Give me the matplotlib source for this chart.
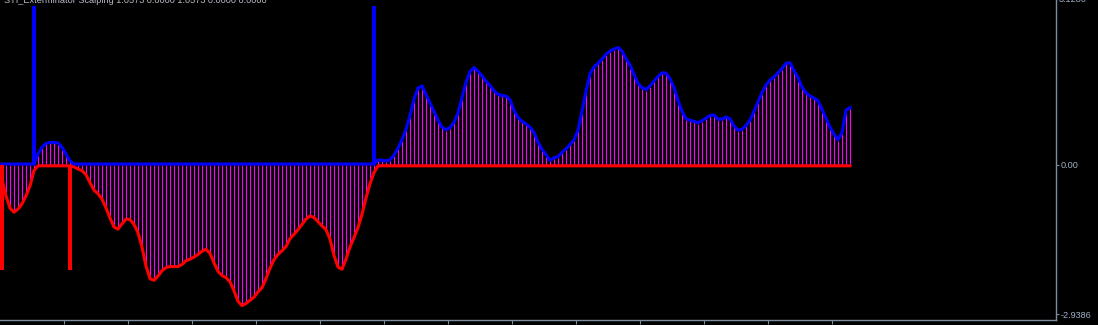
import numpy as np
import matplotlib
matplotlib.use("Agg")
import matplotlib.pyplot as plt
from matplotlib.transforms import ScaledTranslation

# ---- data (indicator value per bar) ----
values = [
    -0.25, -0.57, -0.80, -0.88, -0.82, -0.72, -0.57, -0.38, -0.09, 0.19,
    0.32, 0.39, 0.41, 0.41, 0.40, 0.32, 0.19, 0.06, -0.02, -0.06,
    -0.09, -0.17, -0.32, -0.46, -0.53, -0.63, -0.80, -0.99, -1.16, -1.20,
    -1.10, -1.01, -1.02, -1.11, -1.27, -1.54, -1.90, -2.14, -2.17, -2.09,
    -1.99, -1.93, -1.91, -1.91, -1.91, -1.87, -1.80, -1.77, -1.73, -1.68,
    -1.62, -1.58, -1.66, -1.84, -2.00, -2.08, -2.12, -2.20, -2.37, -2.57,
    -2.65, -2.61, -2.55, -2.49, -2.39, -2.31, -2.14, -1.94, -1.78, -1.68,
    -1.61, -1.53, -1.38, -1.30, -1.21, -1.11, -1.01, -0.95, -0.98, -1.06,
    -1.14, -1.21, -1.39, -1.70, -1.92, -1.96, -1.77, -1.54, -1.36, -1.17,
    -0.92, -0.61, -0.34, -0.13, 0.08, 0.07, 0.06, 0.08, 0.17, 0.30,
    0.46, 0.66, 0.92, 1.23, 1.44, 1.48, 1.32, 1.16, 1.00, 0.83,
    0.70, 0.65, 0.69, 0.79, 0.97, 1.26, 1.55, 1.75, 1.83, 1.76,
    1.67, 1.57, 1.49, 1.39, 1.32, 1.30, 1.29, 1.22, 1.02, 0.88,
    0.81, 0.76, 0.70, 0.60, 0.42, 0.28, 0.18, 0.07, 0.12, 0.14,
    0.22, 0.29, 0.37, 0.46, 0.64, 1.00, 1.38, 1.71, 1.84, 1.91,
    1.99, 2.08, 2.14, 2.18, 2.21, 2.14, 2.00, 1.88, 1.70, 1.53,
    1.45, 1.41, 1.48, 1.57, 1.66, 1.73, 1.72, 1.62, 1.45, 1.21,
    1.00, 0.86, 0.83, 0.81, 0.78, 0.82, 0.87, 0.92, 0.93, 0.85,
    0.85, 0.89, 0.86, 0.72, 0.64, 0.66, 0.73, 0.83, 1.00, 1.18,
    1.35, 1.50, 1.59, 1.65, 1.73, 1.81, 1.91, 1.92, 1.77, 1.64,
    1.46, 1.35, 1.29, 1.25, 1.20, 1.04, 0.87, 0.70, 0.57, 0.46,
    0.59, 1.02, 1.07,
]
buy_signal_bars = [8, 93]
buy_signal_value = 3.01
sell_signal_bars = [0, 17]
sell_signal_value = -1.99

title_text = "STI_Exterminator Scalping 1.0573 0.0000 1.0573 0.0000 0.0000"
y_max_label = "3.1280"
y_zero_label = "0.00"
y_min_label = "-2.9386"
y_min = -2.9386
y_max = 3.128
n_slots = 264  # visible bar slots in the window

# ---- styling ----
BG = "#000000"
AXIS_C = "#7d8da0"
TEXT_C = "#9fb0c4"

fig = plt.figure(figsize=(10.98, 3.25), dpi=100, facecolor=BG)
ax = fig.add_axes([0.0, 5 / 325, 1056 / 1098, 320 / 325], facecolor=BG)

x = np.arange(len(values))
v = np.array(values)
pos = np.maximum(v, 0)
neg = np.minimum(v, 0)

# histogram bars
ax.vlines(x, 0, v, colors="#FF00FF", linewidth=0.8, zorder=2)

# red line (negative part) and blue line (positive part)
down = ScaledTranslation(0, -0.6 / 72, fig.dpi_scale_trans)
up = ScaledTranslation(0, 0.7 / 72, fig.dpi_scale_trans)
ax.plot(x, neg, color="#FF0000", linewidth=2.2, zorder=3,
        transform=ax.transData + down, solid_joinstyle="round")
ax.plot(x, pos, color="#0000FF", linewidth=2.2, zorder=4,
        transform=ax.transData + up, solid_joinstyle="round")

# signal spikes
ax.vlines(buy_signal_bars, 0, buy_signal_value, colors="#0000FF",
          linewidth=2.9, zorder=5)
ax.vlines(sell_signal_bars, 0, sell_signal_value, colors="#FF0000",
          linewidth=2.9, zorder=5)

ax.set_xlim(-0.5, n_slots - 0.5)
ax.set_ylim(y_min, y_max)

for s in ["top", "left"]:
    ax.spines[s].set_visible(False)
for s in ["right", "bottom"]:
    ax.spines[s].set_color(AXIS_C)
    ax.spines[s].set_linewidth(1.0)

# bottom ticks every 16 bars, no labels
ax.set_xticks(np.arange(16, 16 * 14, 16) - 0.5)
ax.tick_params(axis="x", direction="out", length=3, width=0.8,
               colors=AXIS_C, labelbottom=False)

# right axis ticks
ax.yaxis.tick_right()
ax.set_yticks([0.0, y_min + 6 * (y_max - y_min) / 320])
ax.set_yticklabels([y_zero_label, y_min_label])
ax.tick_params(axis="y", direction="out", length=2, width=0.8,
               colors=AXIS_C, labelcolor=TEXT_C, labelsize=6.6, pad=1.5)
for lab in ax.get_yticklabels():
    lab.set_family("Liberation Sans")

# top-right (clipped) max label
fig.text(1059 / 1098, 1 + 0.5 / 325, y_max_label, color=TEXT_C, fontsize=6.6,
         family="Liberation Sans", ha="left", va="center")

# indicator title (partly clipped at top)
fig.text(4 / 1098, 1 - 0.5 / 325, title_text, color="#b8bcc4", fontsize=6.6,
         family="Liberation Sans", ha="left", va="center")

fig.savefig("out.png", dpi=100, facecolor=BG)
